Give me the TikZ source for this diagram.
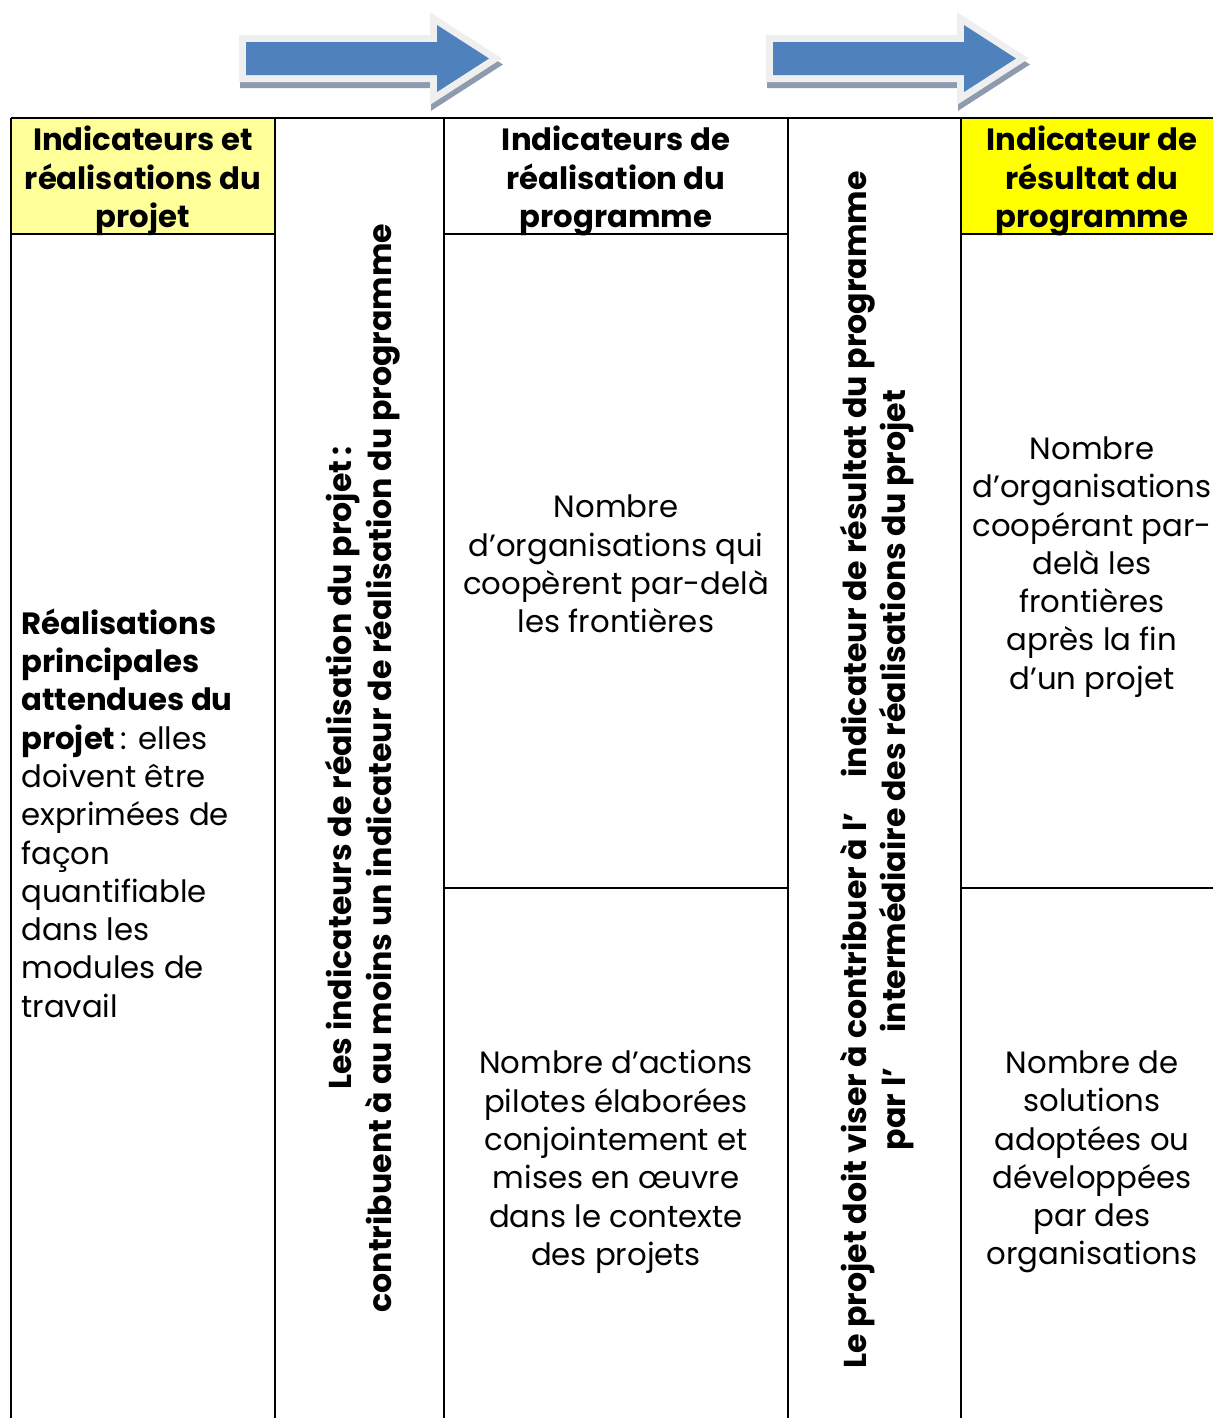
\documentclass[tikz,border=0pt]{standalone}
\usepackage{fontspec}
\setmainfont{Poppins}
\usetikzlibrary{positioning}

\definecolor{arrowblue}{HTML}{4F81BD}
\definecolor{arrowrim}{HTML}{EFEFEF}
\definecolor{arrowshade}{HTML}{8E9AAE}
\definecolor{paleyellow}{HTML}{FFFF99}
\definecolor{brightyellow}{HTML}{FFFF00}

\tikzset{
  cell/.style={align=center, font=\fontsize{17.5pt}{21.8pt}\selectfont, inner sep=0pt},
  headcell/.style={cell, font=\fontsize{17.5pt}{21.8pt}\selectfont\bfseries},
  sidecell/.style={rotate=90, align=center, inner sep=0pt,
    font=\fontsize{18pt}{22.7pt}\selectfont\bfseries},
  gridline/.style={line width=0.04cm, black},
}

\begin{document}
\begin{tikzpicture}[x=0.02cm, y=-0.02cm]
  \useasboundingbox (0,0) rectangle (1213,1418);

  % Block arrows above the table
  \foreach \ax in {246, 773} {
    \filldraw[arrowshade, line width=0.28cm, line join=miter, shift={(1,6)}]
      (\ax,42) -- ++(191,0) -- ++(0,-17) -- ++(52,33.5) -- ++(-52,33.5)
      -- ++(0,-17) -- ++(-191,0) -- cycle;
    \filldraw[arrowrim, line width=0.28cm, line join=miter]
      (\ax,42) -- ++(191,0) -- ++(0,-17) -- ++(52,33.5) -- ++(-52,33.5)
      -- ++(0,-17) -- ++(-191,0) -- cycle;
    \fill[arrowblue]
      (\ax,42) -- ++(191,0) -- ++(0,-17) -- ++(52,33.5) -- ++(-52,33.5)
      -- ++(0,-17) -- ++(-191,0) -- cycle;
  }

  % Header fills
  \fill[paleyellow] (11,118) rectangle (275,234);
  \fill[brightyellow] (961,118) rectangle (1213,234);

  % Grid
  \draw[gridline] (11,118) -- (1213,118);
  \foreach \cx in {11, 275, 444, 788, 961}
    \draw[gridline] (\cx,118) -- (\cx,1418);
  \draw[gridline] (11,234) -- (275,234);
  \draw[gridline] (444,234) -- (788,234);
  \draw[gridline] (961,234) -- (1213,234);
  \draw[gridline] (444,888) -- (788,888);
  \draw[gridline] (961,888) -- (1213,888);

  % Headers
  \node[headcell] (head_proj) at (143,181) {Indicateurs et\\réalisations du\\projet};
  \node[headcell] (head_real) at (616,181) {Indicateurs de\\réalisation du\\programme};
  \node[headcell] (head_res) at (1092,181) {Indicateur de\\résultat du\\programme};

  % Body cells
  \node[cell, align=left, anchor=west] (body_proj) at (21,813)
    {\textbf{Réalisations}\\\textbf{principales}\\\textbf{attendues du}\\\textbf{projet}\,: elles\\doivent être\\exprimées de\\façon\\quantifiable\\dans les\\modules de\\travail};
  \node[cell] (real_top) at (616,564)
    {Nombre\\d’organisations qui\\coopèrent par-delà\\les frontières};
  \node[cell] (real_bot) at (616,1162)
    {Nombre d’actions\\pilotes élaborées\\conjointement et\\mises en œuvre\\dans le contexte\\des projets};
  \node[cell] (res_top) at (1092,567)
    {Nombre\\d’organisations\\coopérant par-\\delà les\\frontières\\après la fin\\d’un projet};
  \node[cell] (res_bot) at (1092,1162)
    {Nombre de\\solutions\\adoptées ou\\développées\\par des\\organisations};

  % Rotated link columns
  \node[sidecell] (link_real) at (363,768)
    {Les indicateurs de réalisation du projet\,:\\contribuent à au moins un indicateur de réalisation du programme};
  \node[sidecell] (link_res) at (877,770)
    {Le projet doit viser à contribuer à l’\hspace{20pt}indicateur de résultat du programme\\par l’\hspace{20pt}intermédiaire des réalisations du projet};

\end{tikzpicture}
\end{document}
